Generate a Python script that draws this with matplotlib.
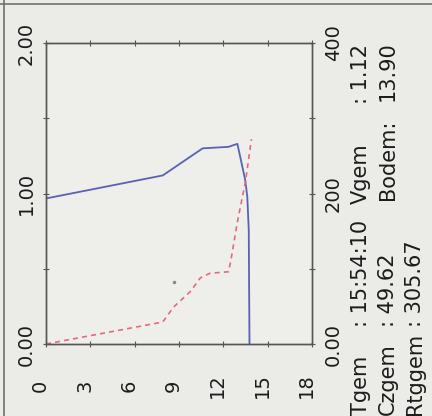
import matplotlib
matplotlib.use("Agg")
import matplotlib.pyplot as plt
from matplotlib.lines import Line2D

plt.rcParams['font.family'] = ['DejaVu Sans']

# depth axis (horizontal in the picture)
depth_ticks = [0, 3, 6, 9, 12, 15, 18]
depth_labels = ['0', '3', '6', '9', '12', '15', '18']

# left scale 0..2, right scale 0..400
left_ticks = [0, 0.5, 1.0, 1.5, 2.0]
left_labels = ['0.00', '', '1.00', '', '2.00']
right_ticks = [0, 100, 200, 300, 400]
right_labels = ['0.00', '', '200', '', '400']

# solid blue curve
blue_depth = [0.0, 7.9, 10.6, 12.35, 12.95, 13.15, 13.48, 13.62, 13.72, 13.77]
blue_value = [0.967, 1.12, 1.30, 1.31, 1.33, 1.24, 1.09, 0.98, 0.76, 0.0]

# dashed red curve
red_depth = [0.0, 7.9, 8.63, 9.78, 10.45, 11.1, 12.35, 12.5, 12.95, 13.5, 13.9]
red_value = [0.0, 0.146, 0.245, 0.35, 0.44, 0.47, 0.48, 0.55, 0.81, 1.08, 1.36]

# stray point
dot_depth = [8.63]
dot_value = [0.41]

# summary texts: (label, value)
stat_names = ['Tgem', 'Vgem', 'Czgem', 'Bodem:', 'Rtggem']
stat_values = [': 15:54:10', ': 1.12', ': 49.62', '13.90', ': 305.67']

bg = '#ebebe8'
frame = '#555555'
ink = '#1c1c1c'

fig = plt.figure(figsize=(4.32, 4.16), dpi=100, facecolor=bg)
ax = fig.add_axes([46 / 432, 72 / 416, 266 / 432, 301 / 416])
ax.set_facecolor('#eeeeeb')

ax.plot(blue_depth, blue_value, color='#5862b4', lw=1.3)
ax.plot(red_depth, red_value, color='#e8687a', lw=1.2, ls=(0, (3, 2.5)))
ax.plot(dot_depth, dot_value, ls='none', marker='o', ms=1.5, color='#888888')

ax.set_xlim(0, 18)
ax.set_ylim(0, 2)

ax.tick_params(axis='both', direction='inout', length=4, width=0.8, color=frame,
               top=True, labelcolor=ink)
ax.tick_params(axis='x', pad=28)
ax.tick_params(axis='y', pad=8)
ax.set_xticks(depth_ticks, depth_labels, rotation=90, rotation_mode='anchor',
              ha='center', va='baseline', fontsize=14)
ax.set_yticks(left_ticks, left_labels, rotation=90, rotation_mode='anchor',
              ha='center', va='baseline', fontsize=14)

tw = ax.twinx()
tw.set_ylim(0, 400)
tw.tick_params(axis='y', direction='inout', length=4, width=0.8, color=frame,
               pad=17.5, labelcolor=ink)
tw.set_yticks(right_ticks, right_labels, rotation=90, rotation_mode='anchor',
              ha='center', va='baseline', fontsize=14)

for a in (ax, tw):
    for sp in a.spines.values():
        sp.set_color(frame)
        sp.set_linewidth(1.0)

# summary block, rotated like the rest of the sheet
name_pos = [(367, 415), (367, 204), (394, 415), (394, 200), (421, 415)]
value_pos = [(367, 327), (367, 104), (394, 327), (394, 101), (421, 327)]
for name, val, (nx, ny), (vx, vy) in zip(stat_names, stat_values, name_pos, value_pos):
    fig.text(nx / 432, 1 - ny / 416, name, rotation=90, rotation_mode='anchor',
             ha='left', va='baseline', fontsize=15, color=ink)
    fig.text(vx / 432, 1 - vy / 416, val, rotation=90, rotation_mode='anchor',
             ha='left', va='baseline', fontsize=15, color=ink)

# sheet border (top and left edge of the scan)
fig.add_artist(Line2D([0, 1], [1 - 3.5 / 416, 1 - 3.5 / 416], transform=fig.transFigure,
                      color='#707070', lw=1.2))
fig.add_artist(Line2D([3.5 / 432, 3.5 / 432], [0, 1], transform=fig.transFigure,
                      color='#707070', lw=1.2))

fig.savefig('out.png', dpi=100, facecolor=bg)
